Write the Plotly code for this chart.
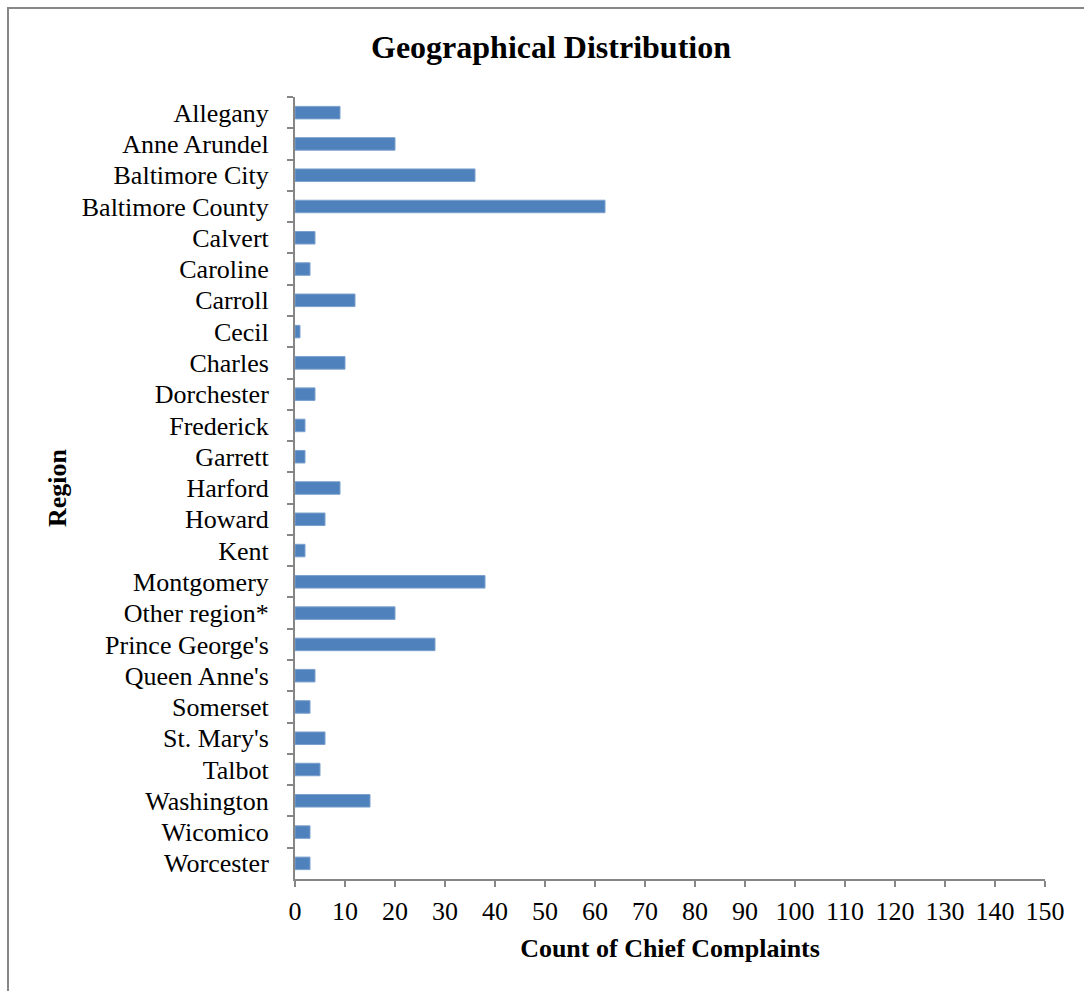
import plotly.graph_objects as go

regions = ["Allegany", "Anne Arundel", "Baltimore City", "Baltimore County", "Calvert",
           "Caroline", "Carroll", "Cecil", "Charles", "Dorchester", "Frederick", "Garrett",
           "Harford", "Howard", "Kent", "Montgomery", "Other region*", "Prince George's",
           "Queen Anne's", "Somerset", "St. Mary's", "Talbot", "Washington", "Wicomico",
           "Worcester"]
counts = [9, 20, 36, 62, 4, 3, 12, 1, 10, 4, 2, 2, 9, 6, 2, 38, 20, 28, 4, 3, 6, 5, 15, 3, 3]
x_ticks = list(range(0, 151, 10))

FONT = "Liberation Serif, Times New Roman, serif"
AXIS_COLOR = "#868686"

W, H = 1084, 991
L, R, T, B = 295, 39, 97, 112
PW, PH = W - L - R, H - T - B

fig = go.Figure(go.Bar(
    y=regions, x=counts, orientation="h",
    marker=dict(color="#4F81BD", line=dict(color="#7BA0CD", width=1)),
    width=0.4,
))

fig.update_layout(
    width=W, height=H,
    margin=dict(l=L, r=R, t=T, b=B, pad=0),
    paper_bgcolor="white", plot_bgcolor="white",
    font=dict(family=FONT, color="black", size=26),
    showlegend=False,
    title=dict(text="<b>Geographical Distribution</b>", x=551 / W, xanchor="center",
               y=1 - 47 / H, yanchor="middle", font=dict(size=32, family=FONT)),
    xaxis=dict(range=[0, 150], tickvals=x_ticks, ticktext=[str(v) for v in x_ticks],
               ticks="outside", ticklen=6, tickcolor=AXIS_COLOR, tickwidth=2,
               showline=True, linecolor=AXIS_COLOR, linewidth=2, showgrid=False,
               zeroline=False, tickfont=dict(size=26, family=FONT), ticklabelstandoff=2,
               title=dict(text="<b>Count of Chief Complaints</b>", font=dict(size=26, family=FONT),
                          standoff=14)),
    yaxis=dict(autorange="reversed", type="category", tickson="boundaries",
               ticks="outside", ticklen=6, tickcolor=AXIS_COLOR, tickwidth=2,
               showline=True, linecolor=AXIS_COLOR, linewidth=2, showgrid=False,
               tickfont=dict(size=26, family=FONT), ticklabelstandoff=19,
               title=dict(text="<b>Region</b>", font=dict(size=26, family=FONT), standoff=8)),
    bargap=0.6,
)

# outer chart frame (partially cropped in the original: only left and top edges visible)
fig.add_shape(type="rect", xref="paper", yref="paper",
              x0=(8 - L) / PW, x1=2.0, y0=-1.0, y1=(H - B - 8) / PH,
              line=dict(color="#878787", width=2), fillcolor="rgba(0,0,0,0)", layer="below")

fig.write_html("out.html", config={"displayModeBar": False},
               post_script="document.body.style.margin='0';document.body.style.overflow='hidden';")
